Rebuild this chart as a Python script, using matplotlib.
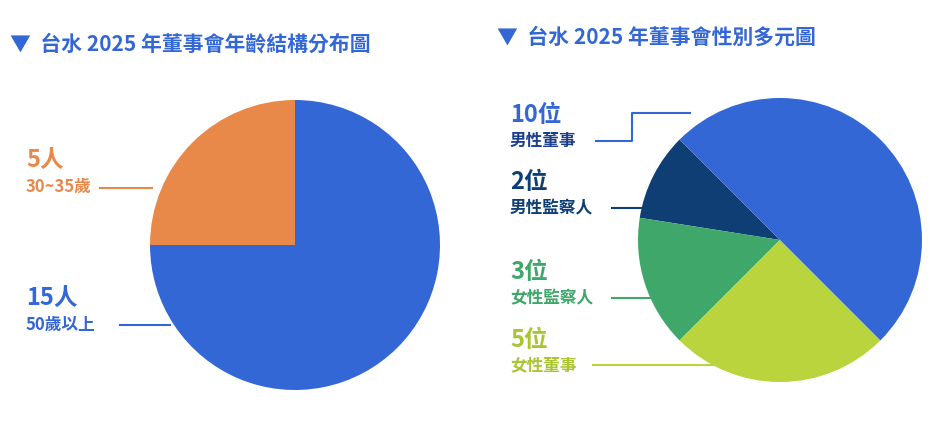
import matplotlib
matplotlib.use("Agg")
import matplotlib.pyplot as plt
from matplotlib.lines import Line2D

plt.rcParams['font.family'] = ['Noto Sans CJK TC', 'DejaVu Sans']

age_labels = ["30~35歲", "50歲以上"]
age_values = [5, 15]
age_colors = ["#e8894a", "#3367d6"]

gender_labels = ["男性監察人", "女性監察人", "女性董事", "男性董事"]
gender_values = [2, 3, 5, 10]
gender_colors = ["#0e3e73", "#3fa76a", "#b9d43c", "#3367d6"]

W, H = 951, 422
fig = plt.figure(figsize=(W/100, H/100), dpi=100)

def ax_px(l, t, s):
    a = fig.add_axes([l/W, (H-t-s)/H, s/W, s/H])
    return a

def txt(x, y, s, size, color, weight='bold'):
    fig.text(x/W, 1-y/H, s, fontsize=size, color=color, weight=weight, va='center', ha='left')

def line(xs, ys, color):
    fig.add_artist(Line2D([x/W for x in xs], [1-y/H for y in ys], color=color, lw=1.5))

ax1 = ax_px(150, 100, 290)
ax1.pie(age_values, colors=age_colors, startangle=90, counterclock=True, radius=1)
ax1.set_xlim(-1, 1); ax1.set_ylim(-1, 1)
ax1.set_aspect('equal')

ax2 = ax_px(638, 98, 284)
ax2.pie(gender_values, colors=gender_colors, startangle=135, counterclock=True, radius=1)
ax2.set_xlim(-1, 1); ax2.set_ylim(-1, 1)
ax2.set_aspect('equal')

blue = "#3367d6"
txt(10, 44, "▼  台水 2025 年董事會年齡結構分布圖", 15, blue)
txt(497, 37, "▼  台水 2025 年董事會性別多元圖", 15, blue)

txt(26, 160, "5人", 17, "#e8894a")
txt(26, 187, "30~35歲", 12, "#e8894a")
line([100, 152], [188, 188], "#e8894a")

txt(26, 298, "15人", 17, blue)
txt(26, 325, "50歲以上", 12, blue)
line([120, 170], [325, 325], blue)

txt(510, 115, "10位", 17, blue)
txt(510, 141, "男性董事", 12, "#1c3e8c")
line([596, 632, 632, 690], [141, 141, 113, 113], blue)

txt(510, 182, "2位", 17, "#0e3e73")
txt(510, 208, "男性監察人", 12, "#0e3e73")
line([612, 645], [208, 208], "#0e3e73")

txt(510, 272, "3位", 17, "#3fa76a")
txt(510, 298, "女性監察人", 12, "#3fa76a")
line([612, 655], [298, 298], "#3fa76a")

txt(510, 340, "5位", 17, "#a9c531")
txt(510, 365, "女性董事", 12, "#a9c531")
line([593, 720], [365, 365], "#b9d43c")

fig.savefig("out.png", dpi=100)
